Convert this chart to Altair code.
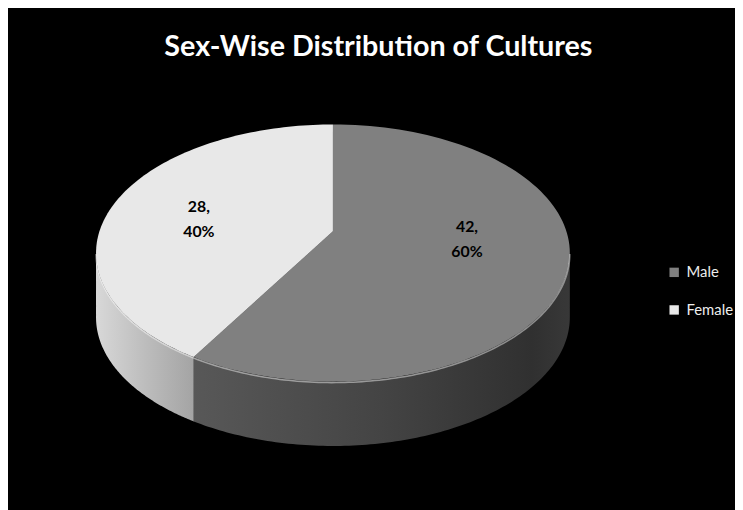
import altair as alt
import pandas as pd

# ---- data ----
sexes = ["Male", "Female"]
counts = [42, 28]
order_idx = [0, 1]
title_text = "Sex-Wise Distribution of Cultures"

# ---- style ----
top_colors = ["#808080", "#e8e8e8"]
FONT = "Lato, 'Open Sans', sans-serif"

W, H = 735, 502
PAD_TOP = 50
VH = H - PAD_TOP
CX, CY, RX, RY, DEPTH = 328.5, 195.0, 239.5, 130.0, 65.0
APEX_DY = -22.0
LABEL_CY = 171.0
LFX, LFY = 0.595, 0.25
N = 120

df = pd.DataFrame({"sex": sexes, "count": counts, "idx": order_idx})

xs = alt.Scale(domain=[0, W], nice=False, zero=False)
ys = alt.Scale(domain=[0, VH], nice=False, zero=False, reverse=True)


def base():
    return (
        alt.Chart(df)
        .transform_joinaggregate(total="sum(count)")
        .transform_window(cum="sum(count)", sort=[alt.SortField(field="idx", order="ascending")])
        .transform_calculate(
            a0="2*PI*(datum.cum - datum.count)/datum.total",
            a1="2*PI*datum.cum/datum.total",
        )
    )


def enc(chart):
    return chart.encode(
        x=alt.X("px:Q", scale=xs, axis=None),
        y=alt.Y("py:Q", scale=ys, axis=None),
        order=alt.Order("k:Q"),
        detail="sex:N",
    )


# top faces
top = enc(
    base()
    .transform_calculate(k=f"sequence(0, {N + 2})")
    .transform_flatten(["k"])
    .transform_calculate(
        t=f"datum.a0 + (datum.a1 - datum.a0) * max(datum.k - 1, 0) / {N}",
        px=f"datum.k == 0 ? {CX} : {CX} + {RX}*sin(datum.t)",
        py=f"datum.k == 0 ? {CY + APEX_DY} : {CY} - {RY}*cos(datum.t)",
    )
    .mark_line(filled=True, strokeWidth=0)
).encode(
    color=alt.Color(
        "sex:N",
        scale=alt.Scale(domain=sexes, range=top_colors),
        sort=sexes,
        legend=alt.Legend(
            orient="none",
            legendX=666,
            legendY=207,
            title=None,
            symbolType="square",
            symbolSize=90,
            symbolStrokeWidth=0,
            labelFontSize=15,
            labelFont=FONT,
            labelColor="#eeeeee",
            labelOffset=5,
            rowPadding=22,
            padding=0,
        ),
    )
)


def wall_chart(name, stops):
    grad = alt.LinearGradient(
        gradient="linear",
        stops=[alt.GradientStop(offset=o, color=c) for o, c in stops],
        x1=0, x2=1, y1=0, y2=0,
    )
    return enc(
        base()
        .transform_filter(alt.datum.sex == name)
        .transform_calculate(b0="max(datum.a0, PI/2)", b1="min(datum.a1, 3*PI/2)")
        .transform_filter("datum.b1 > datum.b0")
        .transform_calculate(k=f"sequence(0, {2 * N + 2})")
        .transform_flatten(["k"])
        .transform_calculate(
            t=f"datum.k <= {N} ? datum.b0 + (datum.b1 - datum.b0)*datum.k/{N} : datum.b1 - (datum.b1 - datum.b0)*(datum.k - {N + 1})/{N}",
            px=f"{CX} + {RX}*sin(datum.t)",
            py=f"{CY} - {RY}*cos(datum.t) + (datum.k <= {N} ? 0 : {DEPTH})",
        )
        .mark_line(filled=True, fill=grad, strokeWidth=0)
    )


wall_male = wall_chart("Male", [(0, "#585858"), (0.5, "#444444"), (0.9, "#303030"), (1, "#383838")])
wall_female = wall_chart("Female", [(0, "#d8d8d8"), (0.5, "#bdbdbd"), (1, "#a4a4a4")])

# rim highlight along the front edge of the top face
rim = enc(
    base()
    .transform_calculate(b0="max(datum.a0, PI/2)", b1="min(datum.a1, 3*PI/2)")
    .transform_filter("datum.b1 > datum.b0")
    .transform_calculate(k=f"sequence(0, {N + 1})")
    .transform_flatten(["k"])
    .transform_calculate(
        t=f"datum.b0 + (datum.b1 - datum.b0)*datum.k/{N}",
        px=f"{CX} + {RX}*sin(datum.t)",
        py=f"{CY} - {RY}*cos(datum.t) + 1",
    )
    .mark_line(color="white", strokeWidth=1.5, opacity=0.45)
)

labels = (
    base()
    .transform_calculate(
        mid="(datum.a0 + datum.a1)/2",
        px=f"{CX} + {LFX * RX}*sin(datum.mid)",
        py=f"{LABEL_CY} - {LFY * RY}*cos(datum.mid)",
        label="datum.count + ',\\n' + format(datum.count/datum.total, '.0%')",
    )
    .mark_text(
        lineBreak="\n", fontSize=16, fontWeight="bold", font=FONT,
        color="black", lineHeight=25, align="center", baseline="middle", dy=-12.5,
    )
    .encode(
        x=alt.X("px:Q", scale=xs, axis=None),
        y=alt.Y("py:Q", scale=ys, axis=None),
        text="label:N",
    )
)

chart = (
    alt.layer(wall_male, wall_female, top, rim, labels)
    .properties(
        width=W,
        height=VH,
        autosize=alt.AutoSizeParams(type="none"),
        padding={"left": 0, "top": PAD_TOP, "right": 0, "bottom": 0},
        background="black",
        title=alt.Title(
            title_text,
            font=FONT,
            fontSize=29,
            fontWeight="bold",
            color="white",
            anchor="middle",
            baseline="alphabetic",
            offset=3,
            dx=7,
            dy=28,
        ),
    )
    .configure_view(stroke=None)
)

chart.save("out.html", embed_options={"renderer": "svg", "actions": False})
